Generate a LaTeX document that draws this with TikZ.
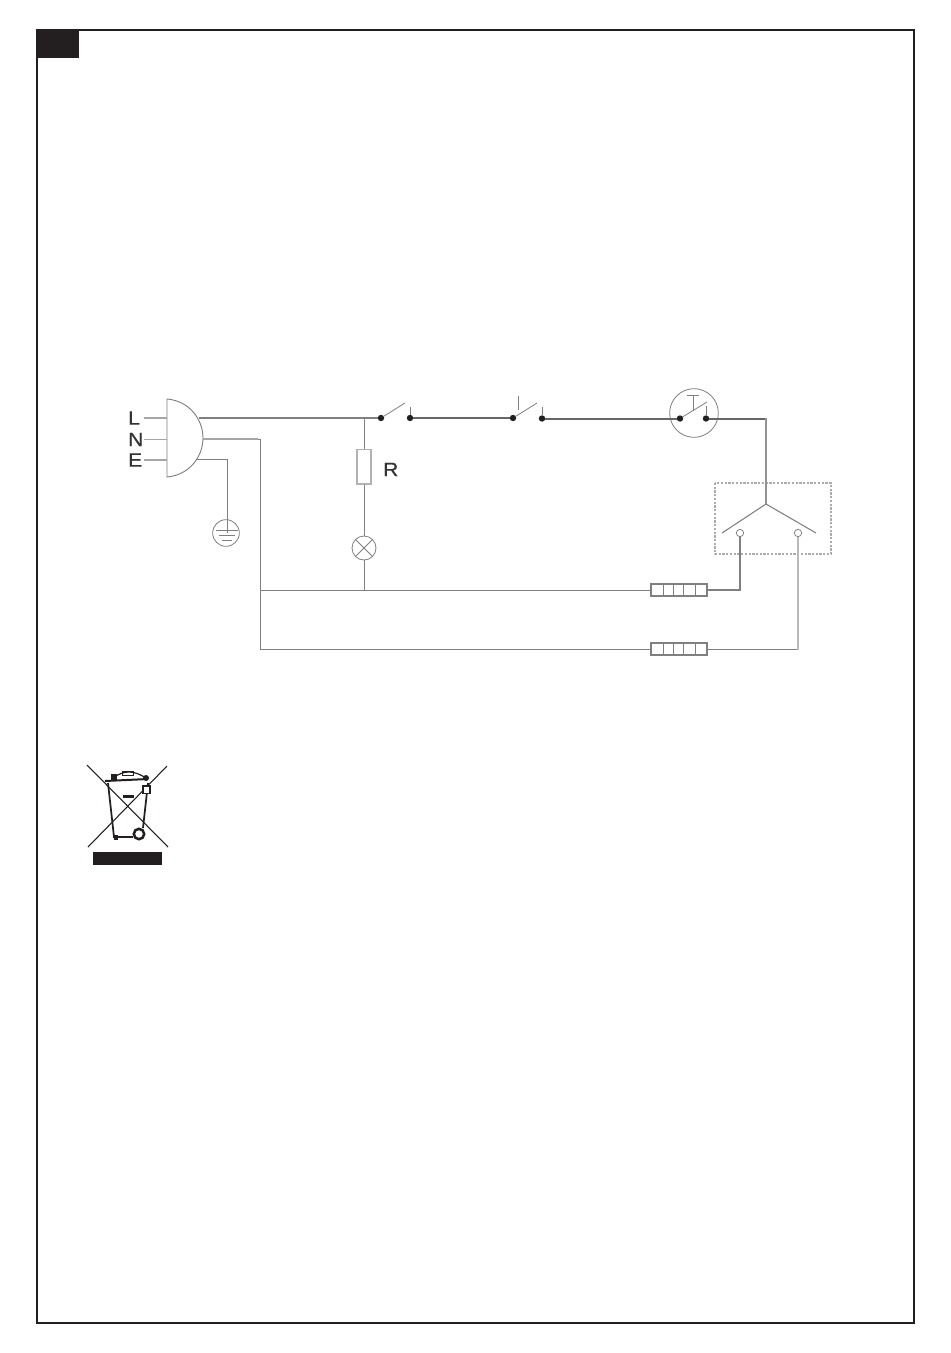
\documentclass[tikz,border=0pt]{standalone}
\usepackage{fontspec}
\setmainfont{Liberation Sans}
\newfontfamily\lblfont[FakeBold=0.7,FakeStretch=1.08]{Liberation Sans}
\usetikzlibrary{calc}
\definecolor{wire}{gray}{0.5}
\definecolor{wiredark}{gray}{0.4}
\definecolor{ink}{HTML}{231F20}
\tikzset{
  wireline/.style={draw=wire,line width=0.7pt},
  thinline/.style={draw=wire,line width=0.6pt},
  heavy/.style={draw=wiredark,line width=1.5pt},
  pale/.style={draw=gray!70,line width=1.5pt},
  contact/.style={circle,fill=ink,inner sep=0pt,minimum size=4.8pt},
  port/.style={circle,draw=wire,fill=white,line width=0.6pt,inner sep=0pt,minimum size=5.5pt},
  letter/.style={font=\lblfont\fontsize{14.5}{14.5}\selectfont,text=black!80,inner sep=0pt,anchor=west},
  block/.style={draw=wire,line width=0.85pt,fill=white,minimum width=42pt,minimum height=9pt,inner sep=0pt},
}
\begin{document}
\begin{tikzpicture}[x=0.75pt,y=-0.75pt]
\useasboundingbox (0,0) rectangle (950,1353);
\fill[white] (0,0) rectangle (950,1353);
% frame
\draw[ink,line width=1.5pt] (37,30) rectangle (914,1323);
\fill[ink] (37,29) rectangle (79,58);
% labels
\node[letter] (lL) at (128,418) {L};
\node[letter] (lN) at (128,439.5) {N};
\node[letter] (lE) at (128,460) {E};
\node[letter] (lR) at (383,469.5) {R};
% plug
\draw[draw=wire,line width=0.7pt,fill=white] (167,399) .. controls (190,401) and (203,420) .. (203,438) .. controls (203,456) and (190,475) .. (167,477) -- cycle;
\coordinate (plugL) at (167,418);
\coordinate (plugN) at (167,439.5);
\coordinate (plugE) at (167,460);
\coordinate (outL) at (199,418);
\coordinate (outN) at (203,439);
\coordinate (outE) at (197,459);
\draw[pale,line width=1pt] (144,418) -- (plugL);
\draw[pale,line width=1pt] (144,439.5) -- (plugN);
\draw[pale,line width=1pt] (144,460) -- (plugE);
% earth
\node[circle,draw=wire,line width=0.6pt,inner sep=0pt,minimum size=20pt] (earth) at (226,533) {};
\draw[wireline] (outE) -- (227,459) -- (227,533);
\draw[thinline] (216,530) -- (238,530);
\draw[thinline] (219,535) -- (235,535);
\draw[thinline] (222,540) -- (232,540);
% switches
\node[contact] (s1a) at (381,418) {};
\node[contact] (s1b) at (410,418) {};
\node[contact] (s2a) at (513,418) {};
\node[contact] (s2b) at (542,418.5) {};
\node[contact] (s3a) at (680,418.5) {};
\node[contact] (s3b) at (706,418.5) {};
\draw[thinline] (s1a) -- (405,403);
\draw[thinline] (s1b) -- (410,407);
\draw[thinline] (s2a) -- (537,403);
\draw[thinline] (s2b) -- (542,407);
\draw[thinline] (518,396) -- (518,410);
\node[circle,draw=wire,line width=0.6pt,inner sep=0pt,minimum size=36.5pt] (timer) at (694,413) {};
\draw[thinline] (s3a) -- (707,402);
\draw[thinline] (s3b) -- (706,406);
\draw[thinline] (687,395) -- (699,395);
\draw[thinline] (693,395) -- (693,411);
% resistor, lamp
\node[draw=gray!60,line width=1pt,fill=white,minimum width=10.5pt,minimum height=26pt,inner sep=0pt] (res) at (364,466.5) {};
\node[circle,draw=wire,line width=0.6pt,inner sep=0pt,minimum size=18pt] (lamp) at (364,548) {};
\draw[thinline] (lamp.north west) -- (lamp.south east);
\draw[thinline] (lamp.north east) -- (lamp.south west);
\coordinate (jtop) at (364,418);
\coordinate (jbot) at (364,590);
\coordinate (jleft) at (260,590);
% wires
\draw[wireline,line width=0.8pt] (outL) -- (s1a);
\draw[heavy,line width=1pt] (s1b) -- (s2a);
\draw[wireline] (jtop) -- (res);
\draw[wireline] (res) -- (lamp);
\draw[wireline] (lamp) -- (jbot);
% blocks
\node[block] (b1) at (679,590) {};
\node[block] (b2) at (679,649) {};
\foreach \b in {b1,b2} \foreach \xx in {663,673,683,695}
  \draw[thinline] (\xx,0 |- \b.north) -- (\xx,0 |- \b.south);
\draw[wireline] (outN) -- (260,439) |- (b2.west);
\draw[pale,line width=1.1pt] (outN) -- (258,439);
\draw[wireline] (jleft) -- (b1.west);
% relay box
\draw[draw=gray!65,line width=1.3pt,dash pattern=on 1.7pt off 1.1pt] (715,483) rectangle (831,554);
\coordinate (fork) at (766,504);
\coordinate (forkL) at (722,533);
\coordinate (forkR) at (816,533);
\node[port] (p1) at (740,533) {};
\node[port] (p2) at (798,533) {};
\draw[heavy] (s2b) -- (s3a);
\draw[heavy] (s3b) -- (766,418.5);
\draw[pale,draw=gray!85] (766,418) -- (fork);
\draw[wireline,line width=0.8pt] (forkL) -- (fork) -- (forkR);
\draw[wireline,line width=0.9pt] (p1) |- (b1.east);
\draw[wireline] (b2.east) -- (798,649);
\draw[pale,draw=gray!55] (p2) -- (798,649.5);
% recycling symbol
\begin{scope}[ink]
\draw[line width=0.8pt] (87,765) -- (168,847);
\draw[line width=0.8pt] (167,766) -- (88,847);
\draw[line width=1.3pt] (108,783) -- (114,837) -- (133,837);
\draw[line width=1.3pt] (148,783) -- (143,828);
\draw[line width=1.5pt] (105,781) -- (148,779);
\draw[line width=0.9pt] (113,778) .. controls (125,769) and (135,771) .. (146,778);
\fill (111,774) rectangle (117,781);
\draw[line width=0.7pt] (122,771.5) rectangle (133,775.5);
\fill (146,778) circle (3);
\fill (114,835) rectangle (118,840);
\draw[line width=0.8pt,fill=white] (143,786) rectangle (150,793.5);
\fill (123,795) rectangle (134,798);
\draw[line width=1.9pt,fill=white] (139,834) circle (5.2);
\draw[line width=0.8pt] (141,831) arc (0:-120:2.5);
\fill (93,852) rectangle (162,865);
\end{scope}
\end{tikzpicture}
\end{document}
